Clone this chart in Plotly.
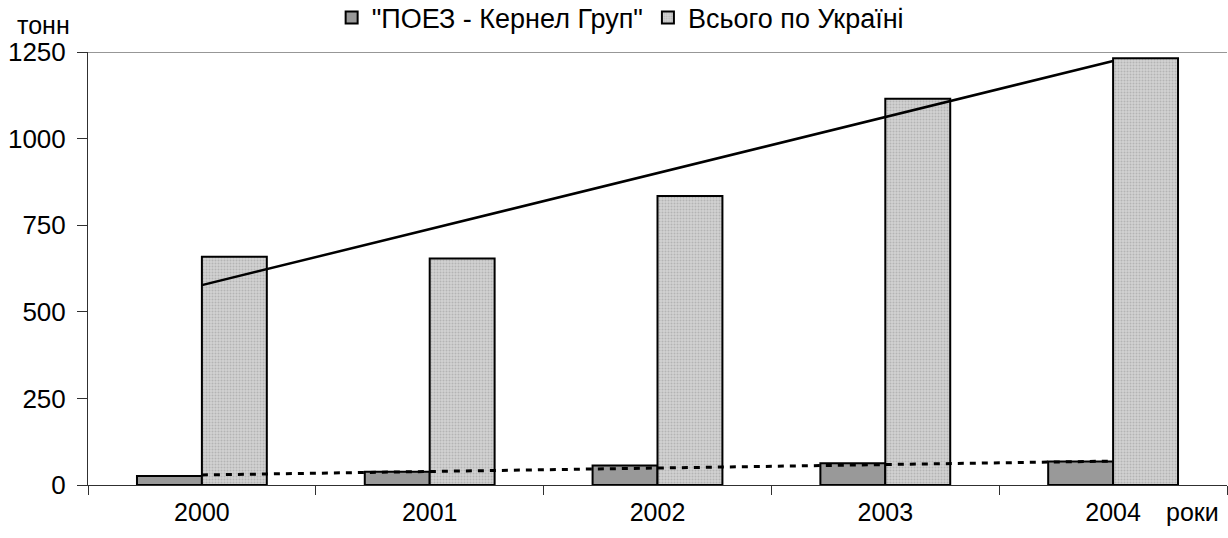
import plotly.graph_objects as go

years = ["2000", "2001", "2002", "2003", "2004"]
poez_values = [26, 38, 56, 63, 68]
ukraine_values = [659, 654, 834, 1115, 1232]
trend_years = ["2000", "2004"]
trend_poez = [29, 69]
trend_ukraine = [577, 1224]
y_ticks = [0, 250, 500, 750, 1000, 1250]

FONT = "Liberation Sans, Arial, sans-serif"

fig = go.Figure()
fig.add_trace(go.Bar(
    x=years, y=poez_values, name='"ПОЕЗ - Кернел Груп"',
    marker=dict(color="#999999", line=dict(color="#000000", width=2)),
))
fig.add_trace(go.Bar(
    x=years, y=ukraine_values, name="Всього по Україні",
    marker=dict(color="#c8c8c8", line=dict(color="#000000", width=2),
                pattern=dict(shape=".", bgcolor="#d2d2d2", fgcolor="#969696",
                             size=3, solidity=0.35)),
))
fig.add_trace(go.Scatter(
    x=trend_years, y=trend_ukraine, mode="lines", showlegend=False,
    line=dict(color="#000000", width=2.5),
))
fig.add_trace(go.Scatter(
    x=trend_years, y=trend_poez, mode="lines", showlegend=False,
    line=dict(color="#000000", width=3, dash="6px,6px"),
))

fig.update_layout(
    width=1228, height=538,
    margin=dict(l=88, r=1, t=52, b=53, autoexpand=False),
    paper_bgcolor="white", plot_bgcolor="white",
    font=dict(family=FONT, size=25, color="#000000"),
    barmode="group", bargap=0.43, bargroupgap=0,
    legend=dict(orientation="h", xref="container", yref="container",
                x=0.505, xanchor="center", y=1 - 18 / 538, yanchor="middle",
                font=dict(size=27), itemwidth=30, traceorder="normal",
                bgcolor="rgba(0,0,0,0)"),
    xaxis=dict(type="category", showline=True, linecolor="#303030", linewidth=1,
               ticks="outside", tickson="boundaries", ticklen=9,
               tickcolor="#303030", showgrid=False, automargin=False,
               ticklabelstandoff=5, tickfont=dict(size=25)),
    yaxis=dict(range=[0, 1250], tickvals=y_ticks, showline=True,
               linecolor="#303030", linewidth=1, ticks="outside", ticklen=10,
               tickcolor="#303030", showgrid=False, zeroline=False,
               automargin=False, ticklabelstandoff=6,
               tickfont=dict(size=26)),
    shapes=[dict(type="line", xref="paper", yref="y", x0=0, x1=1,
                 y0=1250, y1=1250, line=dict(color="#303030", width=1))],
    annotations=[
        dict(text="тонн", xref="paper", yref="paper", x=0.0, y=1.0,
             xanchor="right", yanchor="middle", xshift=-16, yshift=27,
             showarrow=False, font=dict(size=25)),
        dict(text="роки", xref="paper", yref="paper", x=1.0, y=0,
             xanchor="right", yanchor="middle", xshift=-6, yshift=-27,
             showarrow=False, font=dict(size=25)),
    ],
)

fig.write_html("out.html",
               config={"displayModeBar": False},
               post_script="document.body.style.margin='0px';"
                           "document.body.style.overflow='hidden';")
